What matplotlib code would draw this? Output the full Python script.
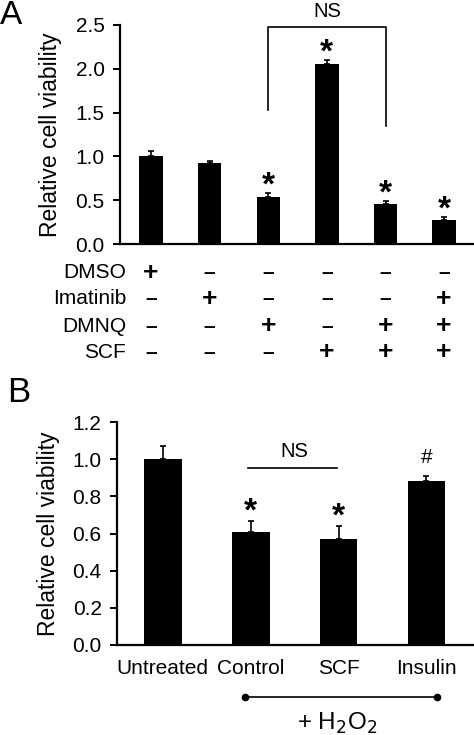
import numpy as np
import matplotlib
matplotlib.use("Agg")
import matplotlib.pyplot as plt
from matplotlib import transforms

plt.rcParams['font.family'] = ['Liberation Sans', 'DejaVu Sans']

# panel A data
a_vals = [1.00, 0.92, 0.54, 2.05, 0.46, 0.27]
a_err = [0.06, 0.03, 0.04, 0.05, 0.03, 0.04]
a_stars = ['', '', '*', '*', '*', '*']
a_rows = ['DMSO', 'Imatinib', 'DMNQ', 'SCF']
a_signs = [
    ['+', '–', '–', '–', '–', '–'],
    ['–', '+', '–', '–', '–', '+'],
    ['–', '–', '+', '–', '+', '+'],
    ['–', '–', '–', '+', '+', '+'],
]

# panel B data
b_labels = ['Untreated', 'Control', 'SCF', 'Insulin']
b_vals = [1.00, 0.61, 0.57, 0.88]
b_err = [0.07, 0.055, 0.07, 0.03]
b_marks = ['', '*', '*', '#']

W, H = 474, 735
fig = plt.figure(figsize=(W / 100, H / 100), dpi=100)


def px_axes(l, t, r, b):
    return fig.add_axes([l / W, 1 - b / H, (r - l) / W, (b - t) / H])


def style(ax):
    for s in ['top', 'right']:
        ax.spines[s].set_visible(False)
    for s in ['left', 'bottom']:
        ax.spines[s].set_linewidth(1.6)
    ax.tick_params(axis='y', direction='out', length=5, width=1.4, labelsize=15, pad=6)
    ax.tick_params(axis='x', length=0)


# ---- A ----
axA = px_axes(120, 25, 474, 244)
xa = np.arange(len(a_vals))
axA.bar(xa, a_vals, width=0.4, color='black')
axA.errorbar(xa, a_vals, yerr=[np.zeros(len(a_err)), a_err], fmt='none',
             ecolor='black', elinewidth=1.2, capsize=2.5, capthick=1.2)
for i, s in enumerate(a_stars):
    if s:
        axA.text(xa[i], a_vals[i] + a_err[i] + 0.08, s, ha='center', va='center',
                 fontsize=24, fontweight='bold')
axA.set_xlim(-0.53, 5.51)
axA.set_ylim(0, 2.5)
axA.set_yticks(np.arange(0, 2.51, 0.5))
axA.set_yticklabels(['%.1f' % v for v in np.arange(0, 2.51, 0.5)])
axA.set_xticks([])
axA.set_ylabel('Relative cell viability', fontsize=16.5)
axA.yaxis.set_label_coords(-0.163, 0.5)
style(axA)
# NS bracket
axA.plot([2, 2, 4, 4], [1.53, 2.48, 2.48, 1.35], color='black', lw=1.2, clip_on=False)
axA.text(3, 2.54, 'NS', ha='center', va='bottom', fontsize=14.5)

tr = transforms.blended_transform_factory(axA.transData, fig.transFigure)
row_y = [273, 299, 326, 352]
for r, name in enumerate(a_rows):
    yf = 1 - row_y[r] / H
    fig.text(126 / W, yf, name, ha='right', va='center', fontsize=15)
    for i, sg in enumerate(a_signs[r]):
        axA.text(xa[i], yf, sg, transform=tr, ha='center', va='center',
                 fontsize=19 if sg == '+' else 15, fontweight='bold')

fig.text(0 / W, 1 - 15 / H, 'A', ha='left', va='center', fontsize=24)

# ---- B ----
axB = px_axes(117, 422, 473, 645)
xb = np.arange(len(b_vals))
axB.bar(xb, b_vals, width=0.43, color='black')
axB.errorbar(xb, b_vals, yerr=[np.zeros(len(b_err)), b_err], fmt='none',
             ecolor='black', elinewidth=1.2, capsize=2.5, capthick=1.2)
for i, s in enumerate(b_marks):
    if s == '*':
        axB.text(xb[i], b_vals[i] + b_err[i] + 0.05, s, ha='center', va='center',
                 fontsize=24, fontweight='bold')
    elif s == '#':
        axB.text(xb[i], b_vals[i] + b_err[i] + 0.1, s, ha='center', va='center', fontsize=15)
axB.set_xlim(-0.52, 3.53)
axB.set_ylim(0, 1.2)
axB.set_yticks(np.arange(0, 1.21, 0.2))
axB.set_yticklabels(['%.1f' % v for v in np.arange(0, 1.21, 0.2)])
axB.set_xticks(xb)
axB.set_xticklabels(b_labels, fontsize=15)
axB.set_ylabel('Relative cell viability', fontsize=16.5)
axB.yaxis.set_label_coords(-0.16, 0.5)
style(axB)
axB.tick_params(axis='x', pad=10)
axB.plot([0.97, 1.98], [0.95, 0.95], color='black', lw=1.2)
axB.text(1.5, 0.99, 'NS', ha='center', va='bottom', fontsize=14.5)

trb = transforms.blended_transform_factory(axB.transData, fig.transFigure)
axB.plot([0.935, 3.12], [1 - 697 / H] * 2, transform=trb, color='black', lw=1.2,
         marker='o', markersize=4.5, clip_on=False)
axB.text(1.98, 1 - 730 / H, '+ H$_2$O$_2$', transform=trb, ha='center', va='baseline', fontsize=17.5)

fig.text(7 / W, 1 - 392 / H, 'B', ha='left', va='center', fontsize=25)

fig.savefig('out.png', dpi=100)
